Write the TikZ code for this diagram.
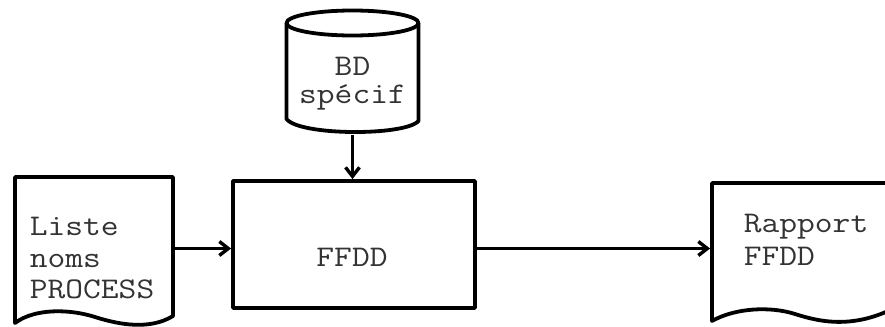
\documentclass[tikz,border=0pt]{standalone}
\usepackage{fontspec}
\setmonofont{Latin Modern Mono}[FakeStretch=1.15]
\usetikzlibrary{arrows.meta,fit}
\begin{document}
\begin{tikzpicture}[x=0.5pt,y=-0.5pt,line width=1.9pt,line join=round,
  lbl/.style={font=\ttfamily\fontsize{15}{16}\selectfont,inner sep=0pt,text=black!80},
  holder/.style={inner sep=0pt,draw=none},
  arr/.style={line width=1.7pt,-{Straight Barb[length=4.5pt,width=7pt,line width=1.7pt]}}]
\clip (0,0) rectangle (885,327);
\fill[white] (0,0) rectangle (885,327);
% database (cylinder)
\node[holder,fit={(286.5,10.5) (418.5,133)}] (bd) {};
\draw (352.5,23) ellipse [x radius=33pt,y radius=6.25pt];
\draw (286.5,23) -- (286.5,119) .. controls (300,136) and (405,136) .. (418.5,121) -- (418.5,23);
\node[lbl,anchor=base] (bdtxt1) at (352.5,75) {BD};
\node[lbl,anchor=base] (bdtxt2) at (352.5,103) {spécif};
% input document
\node[holder,fit={(15,177) (173,320)}] (liste) {};
\draw (15,323) -- (15,177) -- (173,177) -- (173,316)
  .. controls (150,330) and (120,325) .. (95,317)
  .. controls (70,309) and (35,308) .. (15,323) -- cycle;
\node[lbl,anchor=base west] (liste1) at (28,235) {Liste};
\node[lbl,anchor=base west] (liste2) at (28,267) {noms};
\node[lbl,anchor=base west] (liste3) at (28,298) {PROCESS};
% process
\node[holder,draw,fit={(233,181) (475,308)}] (ffdd) {};
\node[lbl,anchor=base] (ffddtxt) at (352,266) {FFDD};
% output document
\node[holder,fit={(712,183) (900,320)}] (rapport) {};
\draw (900,305) -- (900,183) -- (712,183) -- (712,321)
  .. controls (735,308) and (770,306) .. (795,314)
  .. controls (820,322) and (855,330) .. (900,305);
\node[lbl,anchor=base west] (rap1) at (742,232) {Rapport};
\node[lbl,anchor=base west] (rap2) at (742,265) {FFDD};
% connectors
\draw[arr] (bd.south) -- (bd.south |- ffdd.north);
\draw[arr] (liste.east) -- (liste.east -| ffdd.west);
\draw[arr] (ffdd.east |- liste.east) -- (rapport.west |- liste.east);
\end{tikzpicture}
\end{document}
